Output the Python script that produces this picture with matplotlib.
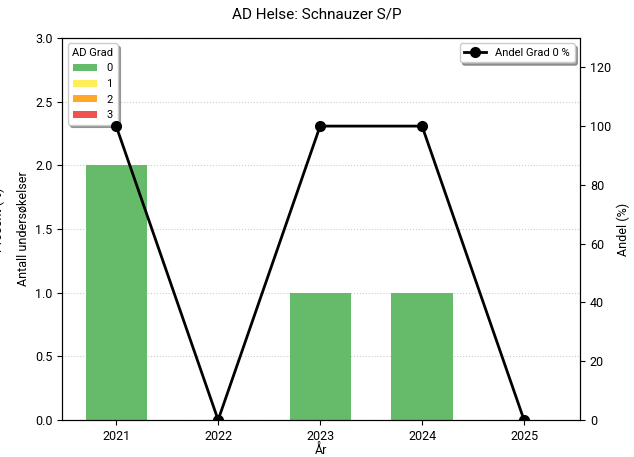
import matplotlib
matplotlib.use('Agg')
import matplotlib.pyplot as plt
import numpy as np

plt.rcParams['font.family'] = ['Roboto', 'DejaVu Sans']

years = ['2021', '2022', '2023', '2024', '2025']
grad_labels = ['0', '1', '2', '3']
grad_counts = {
    '0': [2, 0, 1, 1, 0],
    '1': [0, 0, 0, 0, 0],
    '2': [0, 0, 0, 0, 0],
    '3': [0, 0, 0, 0, 0],
}
andel_grad0 = [100, 0, 100, 100, 0]

COLORS = ['#66bb6a', '#ffee58', '#ffa726', '#ef5350']

fig = plt.figure(figsize=(6.34, 4.57), dpi=100)
ax = fig.add_axes([0.098, 0.081, 0.817, 0.836])
x = np.arange(len(years))

bottom = np.zeros(len(years))
for g, c in zip(grad_labels, COLORS):
    vals = np.array(grad_counts[g], dtype=float)
    ax.bar(x, vals, width=0.6, bottom=bottom, color=c, label=g, zorder=2)
    bottom += vals

ax.set_ylim(0, 3.0)
ax.set_yticks(np.arange(0, 3.01, 0.5))
ax.set_xlim(-0.53, 4.55)
ax.set_xticks(x)
ax.set_xticklabels(years)
ax.set_xlabel('År', fontsize=9, labelpad=1)
ax.set_ylabel('Antall undersøkelser', fontsize=9)
ax.yaxis.grid(True, linestyle=':', color='#cccccc', linewidth=0.8, zorder=0)
ax.set_axisbelow(True)
ax.tick_params(labelsize=9)

ax.legend(title='AD Grad', loc='upper left', fontsize=8, title_fontsize=8,
          shadow=True, fancybox=True, handlelength=2.2, handleheight=0.6)

ax2 = ax.twinx()
ax2.plot(x, andel_grad0, color='black', marker='o', markersize=7, linewidth=2,
         label='Andel Grad 0 %', zorder=5)
ax2.set_ylim(0, 130)
ax2.set_yticks(np.arange(0, 121, 20))
ax2.set_ylabel('Andel (%)', fontsize=9)
ax2.tick_params(labelsize=9)
ax2.legend(loc='upper right', fontsize=8, shadow=True, fancybox=True)

fig.text(-0.002, 0.52, 'Prosent (%)', rotation=90, fontsize=9, ha='center', va='center')
fig.suptitle('AD Helse: Schnauzer S/P', fontsize=11, y=0.983)

fig.savefig('out.png', dpi=100)
